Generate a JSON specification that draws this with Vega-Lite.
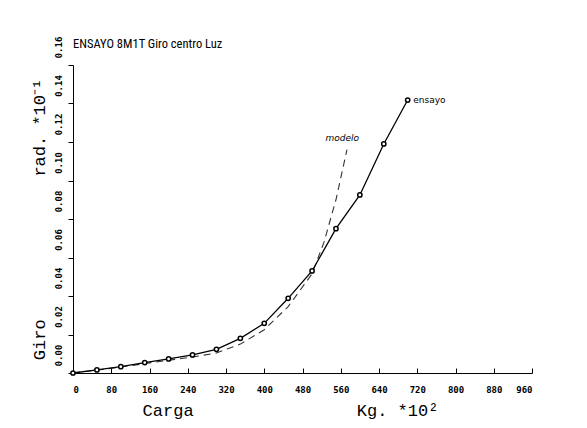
{
  "$schema": "https://vega.github.io/schema/vega-lite/v6.json",
  "width": 459,
  "height": 308,
  "autosize": {"type": "none"},
  "padding": {"left": 73, "top": 65, "right": 55, "bottom": 55},
  "background": "white",
  "config": {
    "view": {"stroke": null},
    "axis": {
      "grid": false,
      "domainColor": "black",
      "tickColor": "black",
      "labelColor": "black",
      "titleColor": "black",
      "labelFont": "DejaVu Sans Mono",
      "titleFont": "Liberation Mono",
      "titleFontWeight": "normal",
      "labelFontSize": 9,
      "titleFontSize": 17
    }
  },
  "title": {
    "text": "ENSAYO 8M1T Giro centro Luz",
    "anchor": "start",
    "frame": "group",
    "font": "Roboto Condensed, DejaVu Sans Condensed, Roboto",
    "fontSize": 12.5,
    "fontWeight": "normal",
    "color": "black",
    "offset": 17,
    "dy": 31
  },
  "datasets": {
    "curves": [
      {"series": "ensayo", "carga": 0, "giro": 0},
      {"series": "ensayo", "carga": 50, "giro": 0.0016},
      {"series": "ensayo", "carga": 100, "giro": 0.0033},
      {"series": "ensayo", "carga": 150, "giro": 0.0054},
      {"series": "ensayo", "carga": 200, "giro": 0.0073},
      {"series": "ensayo", "carga": 250, "giro": 0.0094},
      {"series": "ensayo", "carga": 300, "giro": 0.0123},
      {"series": "ensayo", "carga": 350, "giro": 0.018},
      {"series": "ensayo", "carga": 400, "giro": 0.0258},
      {"series": "ensayo", "carga": 450, "giro": 0.0388},
      {"series": "ensayo", "carga": 500, "giro": 0.053},
      {"series": "ensayo", "carga": 550, "giro": 0.075},
      {"series": "ensayo", "carga": 600, "giro": 0.0925},
      {"series": "ensayo", "carga": 650, "giro": 0.119},
      {"series": "ensayo", "carga": 700, "giro": 0.1418},
      {"series": "modelo", "carga": 0, "giro": 0},
      {"series": "modelo", "carga": 50, "giro": 0.0015},
      {"series": "modelo", "carga": 100, "giro": 0.0031},
      {"series": "modelo", "carga": 150, "giro": 0.0049},
      {"series": "modelo", "carga": 200, "giro": 0.0066},
      {"series": "modelo", "carga": 250, "giro": 0.0083},
      {"series": "modelo", "carga": 300, "giro": 0.0104},
      {"series": "modelo", "carga": 350, "giro": 0.015},
      {"series": "modelo", "carga": 400, "giro": 0.0225},
      {"series": "modelo", "carga": 450, "giro": 0.0345},
      {"series": "modelo", "carga": 500, "giro": 0.0515},
      {"series": "modelo", "carga": 525, "giro": 0.068},
      {"series": "modelo", "carga": 550, "giro": 0.09},
      {"series": "modelo", "carga": 573, "giro": 0.116}
    ],
    "labels": [
      {"label": "ensayo", "carga": 699, "giro": 0.1418},
      {"label": "modelo", "carga": 563, "giro": 0.1221}
    ]
  },
  "encoding": {
    "x": {
      "field": "carga",
      "type": "quantitative",
      "scale": {"domain": [0, 960], "nice": false, "zero": false},
      "axis": {
        "values": [0, 80, 160, 240, 320, 400, 480, 560, 640, 720, 800, 880, 960],
        "tickSize": -5,
        "labelPadding": 17,
        "labelFontWeight": "bold",
        "titlePadding": 8,
        "title": "Carga\u00a0\u00a0\u00a0\u00a0\u00a0\u00a0\u00a0\u00a0\u00a0\u00a0\u00a0\u00a0\u00a0\u00a0\u00a0\u00a0Kg. *10²",
        "titleX": 217,
        "titleAnchor": "middle"
      }
    },
    "y": {
      "field": "giro",
      "type": "quantitative",
      "scale": {"domain": [0, 0.16], "nice": false},
      "axis": {
        "values": [0, 0.02, 0.04, 0.06, 0.08, 0.1, 0.12, 0.14, 0.16],
        "format": ".2f",
        "labelAngle": -90,
        "labelOffset": -18,
        "tickSize": 5,
        "labelPadding": 5,
        "labelFontWeight": "bold",
        "titlePadding": 6,
        "title": "Giro\u00a0\u00a0\u00a0\u00a0\u00a0\u00a0\u00a0\u00a0\u00a0\u00a0\u00a0\u00a0\u00a0\u00a0rad. *10⁻¹"
      }
    }
  },
  "layer": [
    {
      "data": {"name": "curves"},
      "transform": [{"filter": "datum.series === 'modelo'"}],
      "mark": {"type": "line", "color": "#333333", "strokeWidth": 1.1, "strokeDash": [7, 5]}
    },
    {
      "data": {"name": "curves"},
      "transform": [{"filter": "datum.series === 'ensayo'"}],
      "mark": {"type": "line", "color": "black", "strokeWidth": 1.3}
    },
    {
      "data": {"name": "curves"},
      "transform": [{"filter": "datum.series === 'ensayo'"}],
      "mark": {"type": "point", "shape": "circle", "filled": false, "fill": "white", "fillOpacity": 1, "stroke": "black", "strokeWidth": 1.5, "size": 18, "opacity": 1}
    },
    {
      "data": {"name": "labels"},
      "transform": [{"filter": "datum.label === 'ensayo'"}],
      "mark": {"type": "text", "font": "DejaVu Sans", "fontSize": 9, "color": "black", "baseline": "middle", "align": "left", "dx": 6},
      "encoding": {"text": {"field": "label"}}
    },
    {
      "data": {"name": "labels"},
      "transform": [{"filter": "datum.label === 'modelo'"}],
      "mark": {"type": "text", "font": "DejaVu Sans", "fontSize": 9, "fontStyle": "italic", "color": "black", "baseline": "middle", "align": "center"},
      "encoding": {"text": {"field": "label"}}
    }
  ]
}
